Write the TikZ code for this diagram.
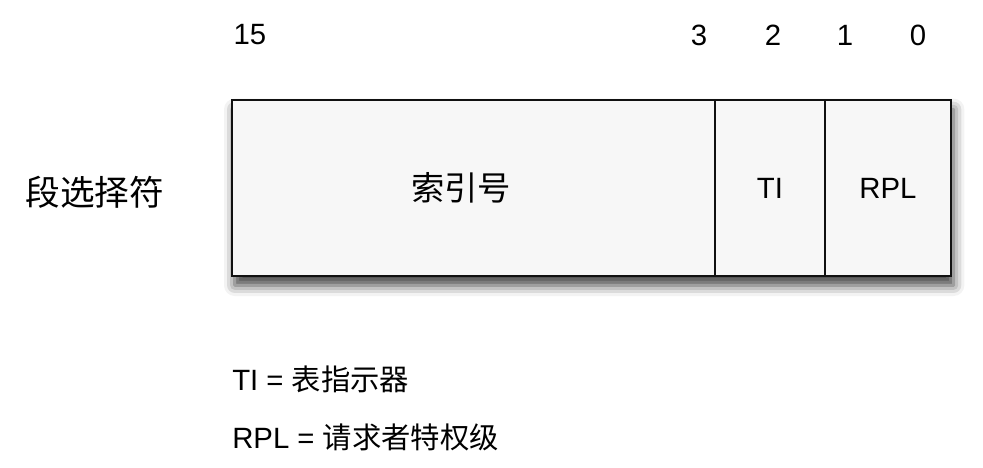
\documentclass[tikz,border=0pt]{standalone}
\usepackage{fontspec}
\setmainfont{Liberation Sans}
\newfontfamily\cjk{Noto Sans CJK SC}
\usepackage{xcolor}
\usetikzlibrary{positioning, fit, backgrounds, shadows.blur}
\definecolor{cellfill}{HTML}{F7F7F7}
\definecolor{frame}{HTML}{111111}
\tikzset{
  cell/.style    = {draw=frame, line width=1.6pt, fill=cellfill, rectangle, outer sep=0pt,
                    inner sep=0pt, minimum height=132pt, anchor=north west,
                    font=\fontsize{22}{26}\selectfont},
  bitnum/.style  = {font=\fontsize{22}{26}\selectfont, inner sep=0pt},
  caption/.style = {font=\fontsize{26}{30}\selectfont\cjk, inner sep=0pt},
  fieldname/.style = {font=\fontsize{25}{29}\selectfont\cjk, inner sep=0pt},
  legend/.style  = {font=\fontsize{22}{26}\selectfont, inner sep=0pt, anchor=west},
}

\begin{document}
\begin{tikzpicture}[x=0.75pt, y=-0.75pt]
  \useasboundingbox (0,0) rectangle (983,468);

  % bit numbers
  \node[bitnum] (b15) at (250,35) {15};
  \node[bitnum] (b3)  at (699,35) {3};
  \node[bitnum] (b2)  at (773,35) {2};
  \node[bitnum] (b1)  at (845,35) {1};
  \node[bitnum] (b0)  at (918,35) {0};

  % selector fields
  \node[cell, minimum width=362.25pt] (index) at (232,100) {};
  \node[cell, minimum width=82.5pt, right=0pt of index.north east, anchor=north west] (ti) {TI};
  \node[cell, minimum width=94.5pt, right=0pt of ti.north east, anchor=north west] (rpl) {RPL};
  \node[fieldname] (indexname) at (461,188) {索引号};
  \begin{scope}[on background layer]
    \node[fit=(index)(rpl), inner sep=0pt, fill=cellfill,
          blur shadow={shadow xshift=2pt, shadow yshift=-7pt, shadow blur radius=8pt,
                       shadow opacity=75}] (selector) {};
  \end{scope}

  \node[caption] (name) at (95,192) {段选择符};

  % legend
  \node[legend] (leg1) at (232,379) {TI = {\cjk 表指示器}};
  \node[legend] (leg2) at (232,437) {RPL = {\cjk 请求者特权级}};
\end{tikzpicture}
\end{document}
